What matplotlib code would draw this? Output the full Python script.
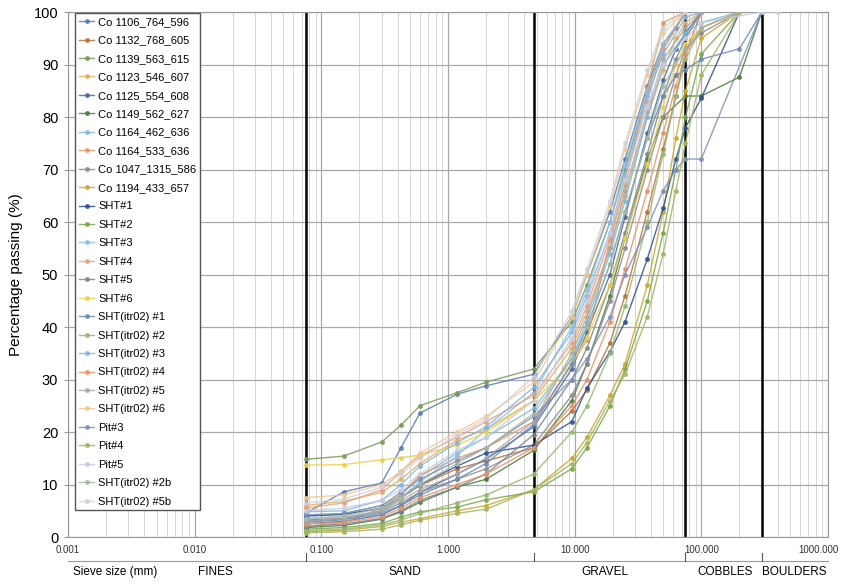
import numpy as np
import matplotlib
matplotlib.use("Agg")
import matplotlib.pyplot as plt
import matplotlib.transforms as mtransforms
from matplotlib.ticker import FixedLocator, NullFormatter

plt.rcParams['font.family'] = ['Liberation Sans', 'DejaVu Sans']

N = None

# sieve openings (mm)
sieve_mm = [0.075, 0.15, 0.3, 0.425, 0.6, 1.18, 2, 4.75, 9.5, 12.5,
            19, 25, 37.5, 50, 63, 75, 100, 200, 300, 400]

# percentage passing per sample (None = sieve not used)
co_1106 = [4.5, 8.6, 10.3, 17.0, 23.6, 27.2, 28.8, 31.0, 42, 50, 62, 72, 86, 94, 97, 100, N, N, N, N]
co_1132 = [3.2, 3.6, 5.0, 7.5, 9.8, 13.0, 14.5, 17.0, 24, 28, 37, 46, 62, 74, 84, 92, 100, N, N, N]
co_1139 = [14.8, 15.4, 18.1, 21.3, 25.0, 27.5, 29.5, 32.0, 41, 48, 60, 70, 85, 93, N, 100, N, N, N, N]
co_1123 = [6.0, 6.8, 8.5, 11.0, 14.0, 18.5, 20.5, 26.0, 36, 43, 55, 65, 80, 89, 95, 98, 100, N, N, N]
co_1125 = [2.5, 3.0, 4.2, 6.0, 8.5, 12.0, 14.8, 21.0, 32, 39, 50, 61, 77, 87, 93, 96, 100, N, N, N]
co_1149 = [1.8, 2.2, 3.4, 4.8, 6.6, 9.5, 11.0, 16.5, 26, 33, 46, 57, 72, 80, N, 84, 84, 87.6, 100, N]
co_1164a = [4.0, 4.4, 6.0, 8.0, 11.5, 16.0, 19.0, 24.5, 34, 41, 54, 64, 80, 90, N, 96, 98, 100, N, N]
co_1164b = [2.0, 2.8, 5.5, 8.0, 11.8, 15.0, 17.0, 22.0, 33, 37.5, 56.6, 67, 85.5, 98, N, 100, N, N, N, N]
co_1047 = [3.0, 3.5, 4.8, 6.5, 8.5, 11.0, 13.0, 17.5, 27, 33, 45, 55, 70, 80, 88, 93, 96, 100, N, N]
co_1194 = [1.0, 1.3, 2.0, 2.8, 3.5, 5.0, 6.0, 9.0, 15, 19, 27, 33, 48, 62, 76, 85, 95, 100, N, N]
sht1 = [4.0, 4.3, 5.5, 7.5, 10.0, 13.5, 16.0, 17.5, 22, 28.4, 35.3, 41, 53, 62.7, 72, 78, 83.6, 100, N, N]
sht2 = [1.5, 1.8, 2.6, 3.8, 4.8, 5.7, 7.1, 8.6, 13, 17, 25, 32, 45, 58, 70, 80, 92, 100, N, N]
sht3 = [3.5, 3.8, 5.0, 7.5, 10.5, 15.5, 20.5, 27.5, 40, 47, 60, 71, 85, 94, N, 100, N, N, N, N]
sht4 = [5.5, 6.5, 9.0, 12.5, 15.5, 19.0, 22.0, 27.0, 37, 44, 57, 68, 83, 93, N, 100, N, N, N, N]
sht5 = [2.0, 2.5, 3.5, 5.0, 7.0, 9.5, 12.0, 19.5, 30, 36, 48, 58, 73, 84, 91, 95, 100, N, N, N]
sht6 = [13.7, 13.8, 14.7, 15.1, 15.6, 17.5, 20.0, 26.0, 33, 38, 48, 57, 71, 82, 90, 94, 97, 100, N, N]
itr1 = [2.8, 3.3, 4.5, 6.0, 8.0, 11.0, 14.0, 21.5, 33, 40, 52, 62, 76, 84, 88, 89, 91, 93, 100, N]
itr2 = [1.2, 1.5, 2.3, 3.2, 4.5, 6.5, 8.0, 12.0, 20, 25, 35, 44, 60, 73, 84, 91, 97, 100, N, N]
itr3 = [4.8, 5.0, 7.0, 10.0, 13.5, 18.0, 21.0, 28.5, 39, 46, 58, 69, 84, 92, N, 99, 100, N, N, N]
itr4 = [2.5, 2.8, 3.8, 5.5, 7.5, 10.0, 12.0, 17.0, 25, 30, 41, 51, 66, 77, 86, 92, 97, 100, N, N]
itr5 = [3.0, 3.6, 5.0, 7.0, 9.0, 12.0, 15.0, 22.0, 35, 42, 55, 66, 81, 91, N, 97, 100, N, N, N]
itr6 = [7.5, 8.0, 10.0, 12.5, 16.0, 20.0, 23.0, 29.5, 42, 50, 63, 74, 88, 96, N, 100, N, N, N, N]
pit3 = [4.2, 4.5, 6.0, 8.5, 11.0, 14.5, 17.0, 23.0, 30, 34, 42, 50, 59, 66, 70, 72, 72, N, 100, N]
pit4 = [0.8, 1.0, 1.5, 2.3, 3.2, 4.5, 5.3, 9.0, 14, 18, 26, 31, 42, 54, 66, 75, 88, 100, N, N]
pit5 = [5.0, 5.5, 7.0, 9.0, 12.0, 16.5, 19.0, 26.0, 38, 45, 58, 68, 82, 90, N, 95, 98, N, 100, 100]
itr2b = [3.5, 4.0, 5.5, 7.5, 10.0, 14.0, 17.0, 23.5, 34, 40, 52, 62, 76, 86, N, 93, 97, 100, N, N]
itr5b = [6.5, 7.2, 9.5, 12.0, 15.0, 19.5, 22.5, 30.5, 43, 51, 64, 75, 89, 97, N, 100, N, N, N, N]

samples = [co_1106, co_1132, co_1139, co_1123, co_1125, co_1149, co_1164a, co_1164b,
           co_1047, co_1194, sht1, sht2, sht3, sht4, sht5, sht6, itr1, itr2, itr3,
           itr4, itr5, itr6, pit3, pit4, pit5, itr2b, itr5b]

labels = ['Co 1106_764_596', 'Co 1132_768_605', 'Co 1139_563_615', 'Co 1123_546_607',
          'Co 1125_554_608', 'Co 1149_562_627', 'Co 1164_462_636', 'Co 1164_533_636',
          'Co 1047_1315_586', 'Co 1194_433_657', 'SHT#1', 'SHT#2', 'SHT#3', 'SHT#4',
          'SHT#5', 'SHT#6', 'SHT(itr02) #1', 'SHT(itr02) #2', 'SHT(itr02) #3',
          'SHT(itr02) #4', 'SHT(itr02) #5', 'SHT(itr02) #6', 'Pit#3', 'Pit#4', 'Pit#5',
          'SHT(itr02) #2b', 'SHT(itr02) #5b']

colors = ['#5a7bb0', '#b5713a', '#7a9a5a', '#e0b060', '#4a6a9a', '#4e7a3e', '#80b8d8',
          '#e09a6a', '#8c8c8c', '#c8a830', '#2f4f8f', '#7aa648', '#8fbfe6', '#e8a080',
          '#7d8590', '#e8d050', '#6a8ab8', '#94b870', '#86b4e0', '#e39468', '#a8a8a8',
          '#f2c890', '#7f8fb5', '#a2b45e', '#c5cce0', '#a5b8a5', '#cfd0dc']

# soil class boundaries (mm) and class names
boundaries = [0.075, 4.75, 75, 300]
class_names = ['FINES', 'SAND', 'GRAVEL', 'COBBLES', 'BOULDERS']
class_pos = [0.0145, 0.46, 17.3, 153, 545]

fig = plt.figure(figsize=(8.46, 5.83), dpi=100)
ax = fig.add_axes([0.0804, 0.0789, 0.8983, 0.9005])

x = np.array(sieve_mm, dtype=float)
for vals, lab, c in zip(samples, labels, colors):
    y = np.array(vals, dtype=float)
    ok = ~np.isnan(y)
    ax.plot(x[ok], y[ok], color=c, lw=1.0, marker='o', ms=2.5, label=lab,
            alpha=0.85, zorder=3)

ax.set_xscale('log')
ax.set_xlim(0.001, 1000)
ax.set_ylim(0, 100)

# grid
decades = [10.0 ** k for k in range(-3, 4)]
minors = [m * 10.0 ** k for k in range(-3, 3) for m in range(2, 10)]
ax.xaxis.set_major_locator(FixedLocator(decades))
ax.xaxis.set_minor_locator(FixedLocator(minors))
ax.xaxis.set_minor_formatter(NullFormatter())
ax.set_xticklabels(['0.001', '0.010', '0.100', '1.000', '10.000', '100.000', '1000.000'])
ax.set_yticks(range(0, 101, 10))
ax.grid(which='major', axis='x', color='#a8a8a8', lw=0.9, zorder=0)
ax.grid(which='minor', axis='x', color='#d0d0d0', lw=0.6, zorder=0)
ax.grid(which='major', axis='y', color='#a8a8a8', lw=0.9, zorder=0)
ax.set_axisbelow(True)

for b in boundaries:
    ax.axvline(b, color='black', lw=1.8, zorder=2)

for s in ax.spines.values():
    s.set_color('#999999')
    s.set_linewidth(0.8)

ax.tick_params(axis='x', which='both', length=0, pad=6, labelsize=7, labelcolor='#333333')
ax.tick_params(axis='y', length=3, pad=4, labelsize=10.5, color='#999999')
ax.set_ylabel('Percentage passing (%)', fontsize=11, labelpad=8)

# keep the last x label inside the figure
last = ax.get_xticklabels()[-1]
last.set_transform(last.get_transform() +
                   mtransforms.ScaledTranslation(-0.1, 0, fig.dpi_scale_trans))

# classification bar under the axis
trans = mtransforms.blended_transform_factory(ax.transData, ax.transAxes)
ax.plot([0.001, 1000], [-0.0457, -0.0457], transform=trans, color='#999999',
        lw=0.8, clip_on=False)
for b in boundaries:
    ax.plot([b, b], [-0.0457, -0.030], transform=trans, color='#555555',
            lw=0.8, clip_on=False)
for name, p in zip(class_names, class_pos):
    ax.text(p, -0.067, name, transform=trans, ha='center', va='center', fontsize=8.5)
ax.text(0.00235, -0.067, 'Sieve size (mm)', transform=trans, ha='center',
        va='center', fontsize=8.5)

leg = ax.legend(loc='upper left', bbox_to_anchor=(0.009, 0.998), borderaxespad=0,
                fontsize=8, frameon=True, fancybox=False, edgecolor='#555555',
                framealpha=1, labelspacing=0.76, handlelength=1.4,
                handletextpad=0.35, borderpad=0.35)
leg.get_frame().set_linewidth(1.0)
leg.set_zorder(5)

fig.savefig('out.png', dpi=100)
